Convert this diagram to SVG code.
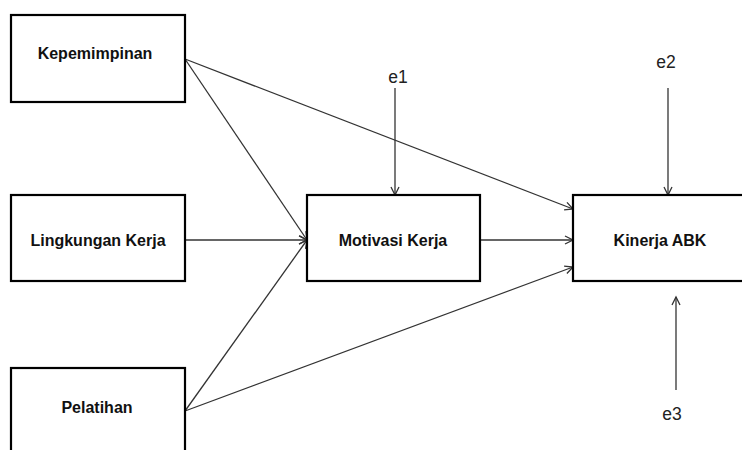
<svg xmlns="http://www.w3.org/2000/svg" width="742" height="450" viewBox="0 0 742 450">
<style>
.box{fill:#fff;stroke:#000;stroke-width:2.2}
.lbl{font-family:"Liberation Sans",Arial,sans-serif;font-weight:bold;font-size:16px;fill:#111;text-anchor:middle}
.err{font-family:"Liberation Sans",Arial,sans-serif;font-size:17.5px;fill:#222;text-anchor:middle}
.ln{stroke:#333;stroke-width:1.3;fill:none}
</style>
<defs>
<marker id="ah" markerUnits="userSpaceOnUse" markerWidth="12" markerHeight="12" refX="9" refY="5" orient="auto">
<path d="M1,1 L9,5 L1,9" fill="none" stroke="#333" stroke-width="1.3"/>
</marker>
</defs>
<rect width="742" height="450" fill="#fff"/>
<g id="connectors">
<line class="ln" x1="185" y1="59" x2="573" y2="209" marker-end="url(#ah)"/>
<line class="ln" x1="185" y1="59" x2="307" y2="240" marker-end="url(#ah)"/>
<line class="ln" x1="185" y1="240" x2="307" y2="240" marker-end="url(#ah)"/>
<line class="ln" x1="185" y1="411" x2="307" y2="240" marker-end="url(#ah)"/>
<line class="ln" x1="185" y1="411" x2="573" y2="267" marker-end="url(#ah)"/>
<line class="ln" x1="480" y1="240" x2="573" y2="240" marker-end="url(#ah)"/>
<line class="ln" x1="395" y1="88" x2="395" y2="195" marker-end="url(#ah)"/>
<line class="ln" x1="668" y1="88" x2="668" y2="195" marker-end="url(#ah)"/>
<line class="ln" x1="676" y1="390" x2="676" y2="297" marker-end="url(#ah)"/>
</g>
<g id="kepemimpinan">
<rect class="box" x="11" y="15" width="174" height="87"/>
<text class="lbl" x="95" y="59">Kepemimpinan</text>
</g>
<g id="lingkungan">
<rect class="box" x="11" y="195" width="174" height="86"/>
<text class="lbl" x="98" y="246">Lingkungan Kerja</text>
</g>
<g id="pelatihan">
<rect class="box" x="11" y="368" width="174" height="100"/>
<text class="lbl" x="97" y="413">Pelatihan</text>
</g>
<g id="motivasi">
<rect class="box" x="307" y="195" width="173" height="86"/>
<text class="lbl" x="393" y="246">Motivasi Kerja</text>
</g>
<g id="kinerja">
<rect class="box" x="573" y="195" width="190" height="86"/>
<text class="lbl" x="660" y="246">Kinerja ABK</text>
</g>
<g id="e1"><text class="err" x="398" y="83">e1</text></g>
<g id="e2"><text class="err" x="666" y="68">e2</text></g>
<g id="e3"><text class="err" x="672" y="420">e3</text></g>
</svg>
